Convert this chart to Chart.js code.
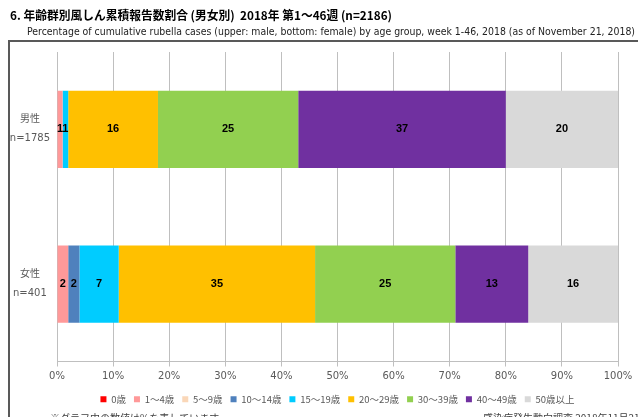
<!DOCTYPE html>
<html>
<head>
<meta charset="utf-8">
<script src="https://cdn.jsdelivr.net/npm/chart.js@4"></script>
<style>
  html, body { margin: 0; padding: 0; background: #fff; }
  canvas { display: block; }
</style>
</head>
<body>
<canvas id="rubella-chart" width="638" height="417"></canvas>
<script>
// Age groups (legend order)
const ageGroups = ['0歳', '1～4歳', '5～9歳', '10～14歳', '15～19歳', '20～29歳', '30～39歳', '40～49歳', '50歳以上'];
// Category labels on the y axis
const sexLabels = [['男性', 'n=1785'], ['女性', 'n=401']];
// Percentages per age group
const maleValues = [0, 1, 0, 0, 1, 16, 25, 37, 20];
const femaleValues = [0, 2, 0, 2, 7, 35, 25, 13, 16];
const groupColors = ['#FF0000', '#FF9999', '#FAD7B8', '#4F81BD', '#00CCFF', '#FFC000', '#92D050', '#7030A0', '#D9D9D9'];

const JP = '"Noto Sans CJK JP", "DejaVu Sans", sans-serif';
const LATIN_JP = '"DejaVu Sans", "Noto Sans CJK JP", sans-serif';

// title, subtitle, frame and footnotes
const decorPlugin = {
  id: 'decor',
  beforeDraw(chart) {
    const ctx = chart.ctx;
    ctx.save();
    ctx.fillStyle = '#fff';
    ctx.fillRect(0, 0, chart.width, chart.height);
    ctx.strokeStyle = '#595959';
    ctx.lineWidth = 2;
    ctx.beginPath();
    ctx.moveTo(9, 417);
    ctx.lineTo(9, 41);
    ctx.lineTo(638, 41);
    ctx.stroke();

    ctx.fillStyle = '#000';
    ctx.textBaseline = 'alphabetic';
    ctx.font = 'bold 12px ' + JP;
    ctx.fillText('6. 年齢群別風しん累積報告数割合 (男女別)  2018年 第1～46週 (n=2186)', 10, 20, 382);
    ctx.font = '10px "DejaVu Sans", sans-serif';
    ctx.fillStyle = '#222';
    ctx.fillText('Percentage of cumulative rubella cases (upper: male, bottom: female) by age group, week 1-46, 2018 (as of November 21, 2018)', 27, 35, 608);

    ctx.font = '10px ' + JP;
    ctx.fillStyle = '#404040';
    ctx.fillText('※グラフ中の数値は%を表しています', 50, 422);
    ctx.fillText('感染症発生動向調査 2018年11月21日現在', 483, 422);
    ctx.restore();
  },
  // centre the legend under the plot area rather than the whole canvas
  afterLayout(chart) {
    const lg = chart.legend;
    if (!lg) return;
    const shift = (chart.chartArea.left + chart.chartArea.right) / 2 - (lg.left + lg.right) / 2;
    lg.left += shift;
    lg.right += shift;
  }
};

// value labels inside the bar segments
const valueLabels = {
  id: 'valueLabels',
  afterDatasetsDraw(chart) {
    const ctx = chart.ctx;
    ctx.save();
    ctx.font = 'bold 11px "Liberation Sans", sans-serif';
    ctx.fillStyle = '#000';
    ctx.textAlign = 'center';
    ctx.textBaseline = 'middle';
    chart.data.datasets.forEach((ds, i) => {
      chart.getDatasetMeta(i).data.forEach((bar, j) => {
        const v = ds.data[j];
        if (!v) return;
        ctx.fillText(String(v), (bar.x + bar.base) / 2, bar.y);
      });
    });
    ctx.restore();
  }
};

const datasets = ageGroups.map((name, i) => ({
  label: name,
  data: [maleValues[i], femaleValues[i]],
  backgroundColor: groupColors[i],
  borderWidth: 0,
  barPercentage: 0.5,
  categoryPercentage: 1
}));

new Chart(document.getElementById('rubella-chart'), {
  type: 'bar',
  data: { labels: sexLabels, datasets },
  options: {
    responsive: false,
    animation: false,
    indexAxis: 'y',
    layout: { padding: { top: 52, right: 20, left: 0, bottom: 3 } },
    scales: {
      x: {
        stacked: true,
        min: 0,
        max: 100,
        ticks: {
          stepSize: 10,
          callback: v => v + '%',
          color: '#595959',
          font: { size: 10, family: '"DejaVu Sans", sans-serif' },
          padding: 4
        },
        grid: { color: '#BFBFBF', tickLength: 5 },
        border: { color: '#BFBFBF' }
      },
      y: {
        stacked: true,
        afterFit(scale) { scale.width = 57; },
        grid: { display: false },
        border: { display: false },
        ticks: {
          crossAlign: 'center',
          padding: -1,
          color: '#595959',
          font: { size: 10, family: LATIN_JP, lineHeight: '19px' }
        }
      }
    },
    plugins: {
      legend: {
        position: 'bottom',
        labels: {
          boxWidth: 6,
          boxHeight: 6,
          padding: 8,
          color: '#595959',
          font: { size: 9.5, family: JP }
        }
      },
      tooltip: { enabled: false }
    }
  },
  plugins: [decorPlugin, valueLabels]
});
</script>
</body>
</html>
